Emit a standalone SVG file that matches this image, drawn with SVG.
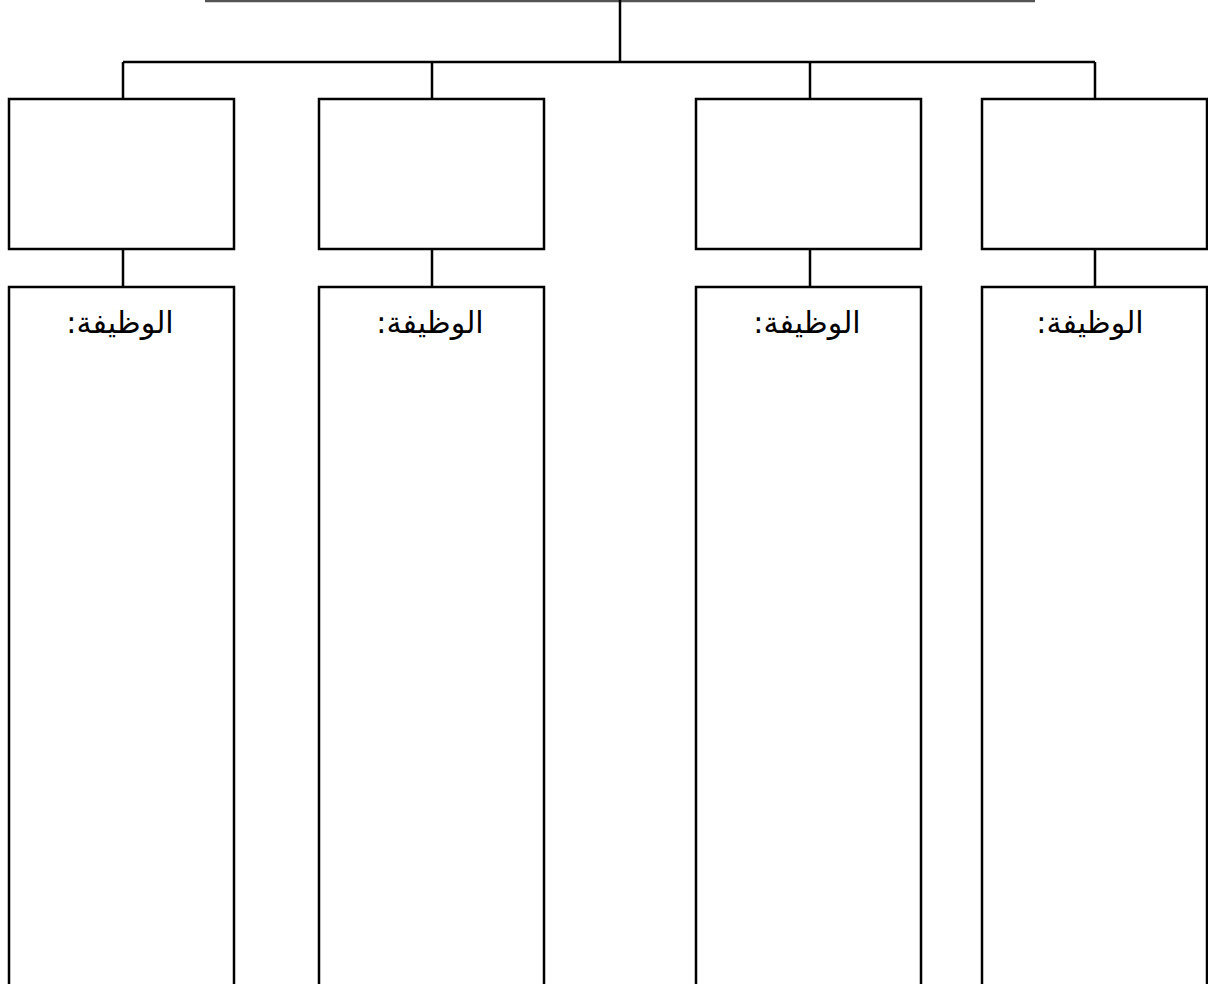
<svg xmlns="http://www.w3.org/2000/svg" width="1208" height="984" viewBox="0 0 1208 984">
<style>
.box{fill:#fff;stroke:#000;stroke-width:2.5}
.ln{fill:none;stroke:#000;stroke-width:2.5}
.lbl{font-family:"DejaVu Sans",sans-serif;font-size:30px;fill:#000;text-anchor:middle;direction:rtl}
</style>
<rect width="1208" height="984" fill="#fff"/>
<g id="connectors">
<line x1="205" y1="1" x2="1035" y2="1" stroke="#555" stroke-width="2.5"/>
<path class="ln" d="M620 0V62M123 62H1095M123 62V99M432 62V99M810 62V99M1095 62V99"/>
<path class="ln" d="M123 249V287M432 249V287M810 249V287M1095 249V287"/>
</g>
<g id="n1"><rect class="box" x="9" y="99" width="225" height="150"/></g>
<g id="n2"><rect class="box" x="319" y="99" width="225" height="150"/></g>
<g id="n3"><rect class="box" x="696" y="99" width="225" height="150"/></g>
<g id="n4"><rect class="box" x="982" y="99" width="225" height="150"/></g>
<g id="d1"><rect class="box" x="9" y="287" width="225" height="710"/><text class="lbl" x="120" y="333">الوظيفة:</text></g>
<g id="d2"><rect class="box" x="319" y="287" width="225" height="710"/><text class="lbl" x="430" y="333">الوظيفة:</text></g>
<g id="d3"><rect class="box" x="696" y="287" width="225" height="710"/><text class="lbl" x="807" y="333">الوظيفة:</text></g>
<g id="d4"><rect class="box" x="982" y="287" width="225" height="710"/><text class="lbl" x="1090" y="333">الوظيفة:</text></g>
</svg>
